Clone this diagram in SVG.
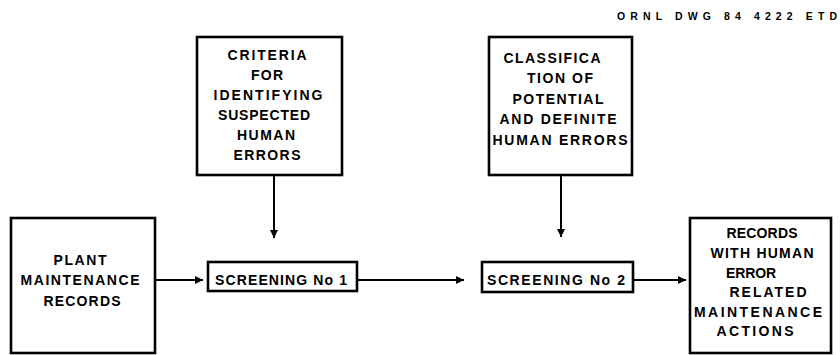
<svg xmlns="http://www.w3.org/2000/svg" width="840" height="355" viewBox="0 0 840 355">
<style>
.box{fill:#fff;stroke:#000;stroke-width:2.6}
.t{font-family:"Liberation Sans",Arial,sans-serif;font-weight:bold;font-size:14px;fill:#000;text-anchor:middle}
.hd{font-family:"Liberation Sans",Arial,sans-serif;font-weight:bold;font-size:10.5px;fill:#000}
.ln{stroke:#000;stroke-width:2;fill:none}
</style>
<defs>
<marker id="ah" viewBox="0 0 10 10" refX="10" refY="5" markerWidth="4" markerHeight="4" markerUnits="strokeWidth" orient="auto">
<path d="M0,0 L10,5 L0,10 z" fill="#000"/>
</marker>
</defs>
<rect width="840" height="355" fill="#fff"/>
<text class="hd" x="617" y="20" textLength="220" lengthAdjust="spacing">ORNL DWG 84 4222 ETD</text>

<g id="connectors">
<line class="ln" x1="274" y1="175" x2="274" y2="238" marker-end="url(#ah)"/>
<line class="ln" x1="561" y1="175" x2="561" y2="237" marker-end="url(#ah)"/>
<line class="ln" x1="155" y1="280" x2="203" y2="280" marker-end="url(#ah)"/>
<line class="ln" x1="357" y1="280" x2="464" y2="280" marker-end="url(#ah)"/>
<line class="ln" x1="633" y1="280" x2="686" y2="280" marker-end="url(#ah)"/>
</g>

<g id="criteria">
<rect class="box" x="197" y="37" width="145" height="138"/>
<text class="t" x="267" y="60" textLength="79" lengthAdjust="spacing">CRITERIA</text>
<text class="t" x="267" y="80" textLength="32" lengthAdjust="spacing">FOR</text>
<text class="t" x="268" y="100" textLength="109" lengthAdjust="spacing">IDENTIFYING</text>
<text class="t" x="264" y="120" textLength="92" lengthAdjust="spacing">SUSPECTED</text>
<text class="t" x="266" y="140" textLength="58" lengthAdjust="spacing">HUMAN</text>
<text class="t" x="267" y="160" textLength="67" lengthAdjust="spacing">ERRORS</text>
</g>

<g id="classification">
<rect class="box" x="489" y="37" width="143" height="138"/>
<text class="t" x="552" y="63" textLength="97" lengthAdjust="spacing">CLASSIFICA</text>
<text class="t" x="560" y="83" textLength="66" lengthAdjust="spacing">TION OF</text>
<text class="t" x="558" y="104" textLength="91" lengthAdjust="spacing">POTENTIAL</text>
<text class="t" x="558" y="124" textLength="117" lengthAdjust="spacing">AND DEFINITE</text>
<text class="t" x="560" y="145" textLength="135" lengthAdjust="spacing">HUMAN ERRORS</text>
</g>

<g id="plant">
<rect class="box" x="11" y="218" width="144" height="135"/>
<text class="t" x="80" y="265" textLength="53" lengthAdjust="spacing">PLANT</text>
<text class="t" x="80" y="285" textLength="119" lengthAdjust="spacing">MAINTENANCE</text>
<text class="t" x="82" y="306" textLength="77" lengthAdjust="spacing">RECORDS</text>
</g>

<g id="screening1">
<rect class="box" x="208" y="262" width="149" height="29"/>
<text class="t" x="281" y="285" textLength="132" lengthAdjust="spacing">SCREENING No 1</text>
</g>

<g id="screening2">
<rect class="box" x="482" y="262" width="151" height="30"/>
<text class="t" x="556" y="285" textLength="138" lengthAdjust="spacing">SCREENING No 2</text>
</g>

<g id="result">
<rect class="box" x="690" y="218" width="141" height="135"/>
<text class="t" x="762" y="238" textLength="71" lengthAdjust="spacing">RECORDS</text>
<text class="t" x="762" y="258" textLength="103" lengthAdjust="spacing">WITH HUMAN</text>
<text class="t" x="751" y="278" textLength="50" lengthAdjust="spacing">ERROR</text>
<text class="t" x="768" y="297" textLength="77" lengthAdjust="spacing">RELATED</text>
<text class="t" x="758" y="317" textLength="128" lengthAdjust="spacing">MAINTENANCE</text>
<text class="t" x="755" y="336" textLength="77" lengthAdjust="spacing">ACTIONS</text>
</g>
</svg>
